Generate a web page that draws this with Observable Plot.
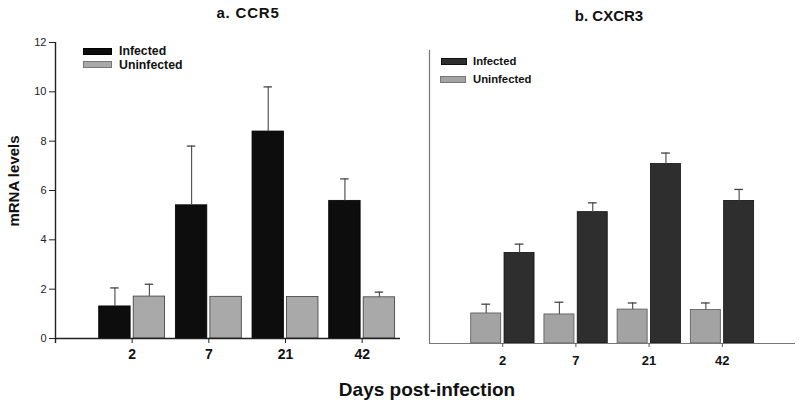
<!DOCTYPE html>
<html>
<head>
<meta charset="utf-8">
<script src="https://cdn.jsdelivr.net/npm/d3@7"></script>
<script src="https://cdn.jsdelivr.net/npm/@observablehq/plot@0.6"></script>
<style>
  html, body { margin: 0; padding: 0; background: #fff; }
  #root { position: relative; width: 800px; height: 407px; overflow: hidden; font-family: "Liberation Sans", Arial, sans-serif; color: #111; }
  .abs { position: absolute; }
  .lbl { position: absolute; white-space: nowrap; font-weight: bold; line-height: 1; transform: translate(-50%, -50%); }
  .leg { position: absolute; white-space: nowrap; font-weight: bold; line-height: 1; transform: translateY(-50%); }
  .sw { position: absolute; box-sizing: border-box; }
</style>
</head>
<body>
<div id="root"></div>
<script>
// ---- data ----
const days = ["2", "7", "21", "42"];
const series = ["Infected", "Uninfected"];
const yTicks = [0, 2, 4, 6, 8, 10, 12];

const ccr5Infected      = [1.30, 5.40, 8.39, 5.58];
const ccr5InfectedErr   = [0.75, 2.40, 1.81, 0.89];
const ccr5Uninfected    = [1.70, 1.69, 1.68, 1.67];
const ccr5UninfectedErr = [0.50, 0, 0, 0.21];

const cxcr3Infected      = [3.71, 5.38, 7.35, 5.84];
const cxcr3InfectedErr   = [0.36, 0.38, 0.45, 0.47];
const cxcr3Uninfected    = [1.23, 1.19, 1.39, 1.37];
const cxcr3UninfectedErr = [0.38, 0.50, 0.27, 0.29];

const titles = ["a. CCR5", "b. CXCR3"];
const yLabel = "mRNA levels";
const xLabel = "Days post-infection";

// ---- build tables ----
function table(inf, infErr, un, unErr) {
  const rows = [];
  days.forEach((d, i) => {
    rows.push({day: d, pos: i + 1, series: "Infected", value: inf[i], err: infErr[i]});
    rows.push({day: d, pos: i + 1, series: "Uninfected", value: un[i], err: unErr[i]});
  });
  return rows;
}
const ccr5 = table(ccr5Infected, ccr5InfectedErr, ccr5Uninfected, ccr5UninfectedErr);
const cxcr3 = table(cxcr3Infected, cxcr3InfectedErr, cxcr3Uninfected, cxcr3UninfectedErr);

const root = document.getElementById("root");
const FONT = "Liberation Sans, Arial, sans-serif";

// ---- left panel: CCR5 (infected on the left of each pair) ----
const leftColors = {Infected: "#0d0d0d", Uninfected: "#a9a9a9"};
const leftStroke = {Infected: "#000", Uninfected: "#3a3a3a"};
const lOff = {Infected: [-0.43, -0.02], Uninfected: [0.02, 0.43]};
const left = Plot.plot({
  width: 400, height: 407,
  marginLeft: 55, marginRight: 0, marginTop: 42, marginBottom: 69,
  x: {type: "linear", domain: [0, 4.5], axis: null},
  y: {type: "linear", domain: [0, 12], axis: null},
  style: {fontFamily: FONT, background: "transparent", overflow: "visible"},
  marks: [
    Plot.rectY(ccr5, {
      x1: d => d.pos + lOff[d.series][0], x2: d => d.pos + lOff[d.series][1],
      y1: 0, y2: "value",
      fill: d => leftColors[d.series], stroke: d => leftStroke[d.series], strokeWidth: 0.8
    }),
    Plot.ruleX(ccr5.filter(d => d.err > 0), {
      x: d => d.pos + (lOff[d.series][0] + lOff[d.series][1]) / 2,
      y1: "value", y2: d => d.value + d.err, stroke: "#555", strokeWidth: 1.2
    }),
    Plot.ruleY(ccr5.filter(d => d.err > 0), {
      x1: d => d.pos + (lOff[d.series][0] + lOff[d.series][1]) / 2 - 0.055,
      x2: d => d.pos + (lOff[d.series][0] + lOff[d.series][1]) / 2 + 0.055,
      y: d => d.value + d.err, stroke: "#444", strokeWidth: 1.3
    }),
    Plot.ruleX([0], {y1: -0.2, y2: 12, stroke: "#222", strokeWidth: 1.4}),
    Plot.ruleY([0], {x1: 0, x2: 4.5, stroke: "#222", strokeWidth: 1.4}),
    Plot.axisY({ticks: yTicks, label: null, tickSize: 6, tickPadding: 3, fontSize: 11, stroke: "#222", fill: "#222"}),
    Plot.axisX({ticks: [1, 2, 3, 4], label: null, tickFormat: v => days[v - 1], tickSize: 5, tickPadding: 6,
      fontSize: 14, fontWeight: "bold", stroke: "#222", fill: "#111"})
  ]
});
left.classList.add("abs");
left.style.left = "0px";
left.style.top = "0px";
root.appendChild(left);

// ---- right panel: CXCR3 (uninfected on the left of each pair) ----
const rightColors = {Infected: "#2e2e2e", Uninfected: "#a3a3a3"};
const rightStroke = {Infected: "#111", Uninfected: "#555"};
const rOff = {Uninfected: [-0.43, -0.02], Infected: [0.025, 0.435]};
const right = Plot.plot({
  width: 400, height: 407,
  marginLeft: 29, marginRight: 5, marginTop: 50, marginBottom: 64,
  x: {type: "linear", domain: [0, 5], axis: null},
  y: {type: "linear", domain: [0, 12], axis: null},
  style: {fontFamily: FONT, background: "transparent", overflow: "visible"},
  marks: [
    Plot.rectY(cxcr3, {
      x1: d => d.pos + rOff[d.series][0], x2: d => d.pos + rOff[d.series][1],
      y1: 0, y2: "value",
      fill: d => rightColors[d.series], stroke: d => rightStroke[d.series], strokeWidth: 0.8
    }),
    Plot.ruleX(cxcr3, {
      x: d => d.pos + (rOff[d.series][0] + rOff[d.series][1]) / 2,
      y1: "value", y2: d => d.value + d.err, stroke: "#555", strokeWidth: 1.2
    }),
    Plot.ruleY(cxcr3, {
      x1: d => d.pos + (rOff[d.series][0] + rOff[d.series][1]) / 2 - 0.06,
      x2: d => d.pos + (rOff[d.series][0] + rOff[d.series][1]) / 2 + 0.06,
      y: d => d.value + d.err, stroke: "#444", strokeWidth: 1.3
    }),
    Plot.ruleX([0], {y1: 0, y2: 12, stroke: "#777", strokeWidth: 1.2}),
    Plot.ruleY([0], {x1: 0, x2: 5, stroke: "#777", strokeWidth: 1.2}),
    Plot.axisX({ticks: [1, 2, 3, 4], label: null, tickFormat: v => days[v - 1], tickSize: 4, tickPadding: 8,
      fontSize: 13, fontWeight: "bold", stroke: "#555", fill: "#111"})
  ]
});
right.classList.add("abs");
right.style.left = "400px";
right.style.top = "0px";
root.appendChild(right);

// ---- texts ----
function addText(txt, cls, x, y, size, extra) {
  const el = document.createElement("div");
  el.className = cls;
  el.textContent = txt;
  el.style.left = x + "px";
  el.style.top = y + "px";
  el.style.fontSize = size + "px";
  if (extra) Object.assign(el.style, extra);
  root.appendChild(el);
  return el;
}
addText(titles[0], "lbl", 248, 12, 15, {letterSpacing: "0.8px"});
addText(titles[1], "lbl", 609, 15, 15);
addText(yLabel, "lbl", 13, 181, 15, {transform: "translate(-50%, -50%) rotate(-90deg)"});
addText(xLabel, "lbl", 427, 389, 19);

// ---- legends ----
function addSwatch(x, y, w, h, fill, stroke) {
  const el = document.createElement("div");
  el.className = "sw";
  Object.assign(el.style, {left: x + "px", top: y + "px", width: w + "px", height: h + "px",
    background: fill, border: "1px solid " + stroke});
  root.appendChild(el);
}
// left legend
addSwatch(83, 47.5, 29, 7, leftColors[series[0]], leftStroke[series[0]]);
addText(series[0], "leg", 119, 51, 12.3);
addSwatch(83, 61, 29, 7, leftColors[series[1]], "#777");
addText(series[1], "leg", 119, 64.5, 12.3);
// right legend
addSwatch(441, 57.5, 26, 7, rightColors[series[0]], rightStroke[series[0]]);
addText(series[0], "leg", 473, 61.5, 11.3);
addSwatch(440, 76, 26, 6.5, rightColors[series[1]], "#777");
addText(series[1], "leg", 473, 79.5, 11.3);
</script>
</body>
</html>
